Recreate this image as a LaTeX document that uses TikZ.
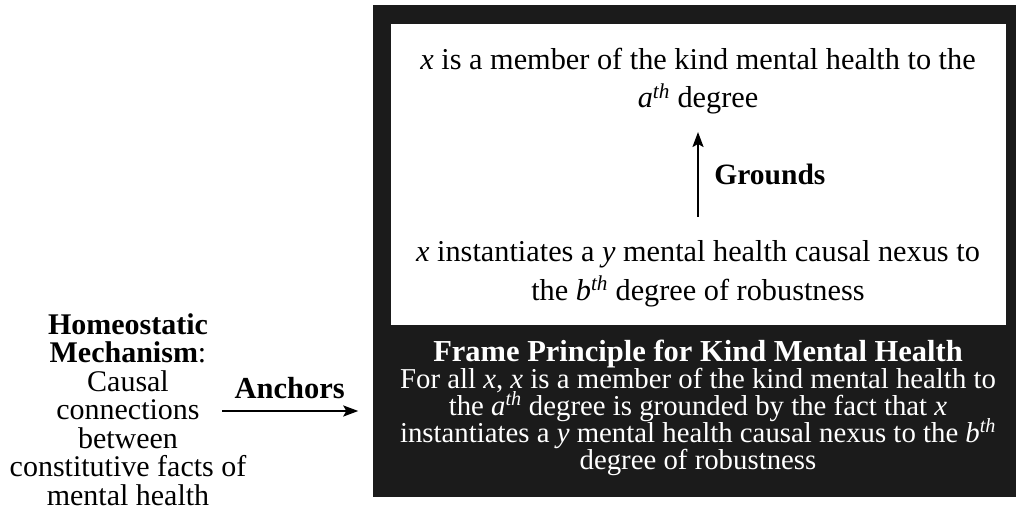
\documentclass[tikz,border=0pt]{standalone}
\usepackage{fontspec}
\setmainfont{Liberation Serif}
\usetikzlibrary{positioning, arrows.meta}
\definecolor{framebg}{RGB}{27,27,27}
\newcommand{\degth}[1]{\textit{#1}\textsuperscript{\textit{th}}}

\begin{document}
\begin{tikzpicture}[
    x=1pt, y=-1pt,
    frame/.style={rectangle, fill=framebg, inner sep=0pt},
    panel/.style={rectangle, fill=white, inner sep=0pt},
    txt/.style={align=center, inner sep=0pt, anchor=base},
    arrow/.style={-{Stealth[length=15pt, width=11pt, inset=3pt]}, line width=2.2pt, draw=black}
]
\useasboundingbox (0,0) rectangle (1016,510);

\node[frame, minimum width=643.5pt, minimum height=491.5pt] (frame) at (694.25,251.25) {};
\node[panel, minimum width=615.5pt, minimum height=301pt] (panel) at (698.25,174.5) {};

\node[txt, font=\fontsize{30.3}{38}\selectfont] (member) at (698,108)
    {\textit{x} is a member of the kind mental health to the\\ \degth{a} degree};
\node[txt, font=\fontsize{30.3}{38}\selectfont] (nexus) at (698,300)
    {\textit{x} instantiates a \textit{y} mental health causal nexus to\\ the \degth{b} degree of robustness};

\node[txt, text=white, font={\fontsize{28.8}{27}\selectfont\lineskiplimit=-20pt\relax}] (principle) at (698,469)
    {{\fontsize{30.5}{27}\selectfont\textbf{Frame Principle for Kind Mental Health}}\\
     For all \textit{x}, \textit{x} is a member of the kind mental health to\\
     the \degth{a} degree is grounded by the fact that \textit{x}\\
     instantiates a \textit{y} mental health causal nexus to the \degth{b}\\
     degree of robustness};

\node[txt, font=\fontsize{30}{28.5}\selectfont] (mechanism) at (128,505)
    {\textbf{Homeostatic}\\ \textbf{Mechanism}:\\ Causal\\ connections\\ between\\ constitutive facts of\\ mental health};

\coordinate (anchorstart) at (222,411);

% grounding relation inside the panel
\draw[arrow] (698,217) -- node[right=12pt, font=\fontsize{29.5}{30}\selectfont\bfseries] (grounds) {Grounds} (698,132);

% the mechanism anchors the frame principle
\draw[arrow, shorten >=14pt] (anchorstart) -- node[pos=0.45, above=11pt, inner sep=0pt, font=\fontsize{30.5}{30}\selectfont\bfseries] (anchors) {Anchors} (anchorstart -| frame.west);
\end{tikzpicture}
\end{document}
